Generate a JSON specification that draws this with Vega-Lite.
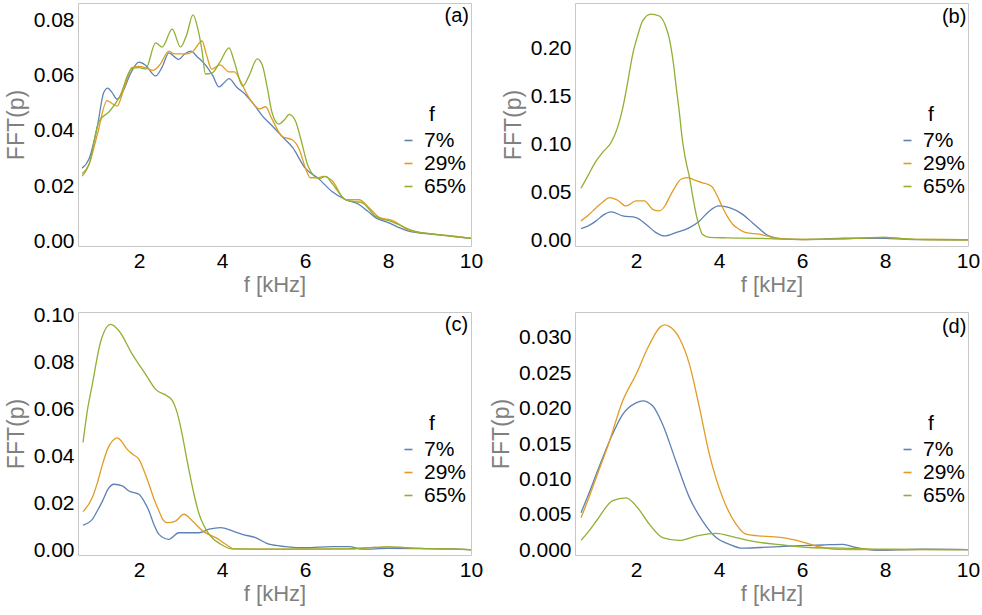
{
  "$schema": "https://vega.github.io/schema/vega-lite/v6.json",
  "padding": {"left": 4, "top": 2, "right": 5, "bottom": 5},
  "background": "white",
  "config": {
    "font": "Liberation Sans",
    "view": {"stroke": "#c8c8c8", "strokeWidth": 1},
    "axis": {"labelFont": "Liberation Sans", "labelFontSize": 21, "labelColor": "#000000", "titleFont": "Liberation Sans", "titleFontSize": 22, "titleColor": "#808080", "titleFontWeight": "normal", "ticks": false, "domain": false, "grid": false, "labelPadding": 4, "labelFlush": false, "labelOverlap": false},
    "axisX": {"titlePadding": 3},
    "axisY": {"titlePadding": 5, "titleFontSize": 23},
    "legend": {"orient": "none", "legendX": 320, "legendY": 101, "titleFontSize": 21, "titleFontWeight": "normal", "titleColor": "#000000", "titleFont": "Liberation Sans", "titleAnchor": "middle", "titlePadding": 5, "labelFontSize": 21, "labelColor": "#000000", "labelFont": "Liberation Sans", "symbolType": "stroke", "symbolSize": 64, "symbolStrokeWidth": 1.6, "rowPadding": 1, "labelOffset": 5}
  },
  "datasets": {
    "a": [
      {"s":"7%","f":0.63,"v":0.0265},{"s":"7%","f":0.8,"v":0.030},{"s":"7%","f":1.0,"v":0.042},{"s":"7%","f":1.15,"v":0.054},{"s":"7%","f":1.25,"v":0.0556},{"s":"7%","f":1.35,"v":0.054},{"s":"7%","f":1.47,"v":0.0516},{"s":"7%","f":1.6,"v":0.054},{"s":"7%","f":1.8,"v":0.061},{"s":"7%","f":2.0,"v":0.065},{"s":"7%","f":2.15,"v":0.064},{"s":"7%","f":2.4,"v":0.060},{"s":"7%","f":2.55,"v":0.063},{"s":"7%","f":2.72,"v":0.0684},{"s":"7%","f":2.85,"v":0.067},{"s":"7%","f":2.96,"v":0.066},{"s":"7%","f":3.1,"v":0.068},{"s":"7%","f":3.25,"v":0.069},{"s":"7%","f":3.4,"v":0.067},{"s":"7%","f":3.6,"v":0.064},{"s":"7%","f":3.78,"v":0.060},{"s":"7%","f":3.93,"v":0.056},{"s":"7%","f":4.05,"v":0.0575},{"s":"7%","f":4.17,"v":0.059},{"s":"7%","f":4.35,"v":0.056},{"s":"7%","f":4.58,"v":0.053},{"s":"7%","f":4.8,"v":0.049},{"s":"7%","f":4.97,"v":0.0455},{"s":"7%","f":5.2,"v":0.042},{"s":"7%","f":5.45,"v":0.038},{"s":"7%","f":5.7,"v":0.034},{"s":"7%","f":6.0,"v":0.0266},{"s":"7%","f":6.34,"v":0.0225},{"s":"7%","f":6.65,"v":0.018},{"s":"7%","f":6.98,"v":0.015},{"s":"7%","f":7.3,"v":0.0133},{"s":"7%","f":7.5,"v":0.011},{"s":"7%","f":7.7,"v":0.0085},{"s":"7%","f":8.02,"v":0.0066},{"s":"7%","f":8.25,"v":0.005},{"s":"7%","f":8.5,"v":0.0036},{"s":"7%","f":9.06,"v":0.0025},{"s":"7%","f":9.5,"v":0.0018},{"s":"7%","f":10,"v":0.001},
      {"s":"29%","f":0.63,"v":0.0245},{"s":"29%","f":0.8,"v":0.028},{"s":"29%","f":1.0,"v":0.039},{"s":"29%","f":1.23,"v":0.051},{"s":"29%","f":1.35,"v":0.050},{"s":"29%","f":1.47,"v":0.049},{"s":"29%","f":1.65,"v":0.056},{"s":"29%","f":1.83,"v":0.063},{"s":"29%","f":2.0,"v":0.0635},{"s":"29%","f":2.15,"v":0.063},{"s":"29%","f":2.33,"v":0.062},{"s":"29%","f":2.5,"v":0.064},{"s":"29%","f":2.72,"v":0.069},{"s":"29%","f":2.85,"v":0.068},{"s":"29%","f":3.0,"v":0.068},{"s":"29%","f":3.15,"v":0.068},{"s":"29%","f":3.3,"v":0.069},{"s":"29%","f":3.52,"v":0.0727},{"s":"29%","f":3.62,"v":0.068},{"s":"29%","f":3.75,"v":0.0625},{"s":"29%","f":3.95,"v":0.064},{"s":"29%","f":4.17,"v":0.0615},{"s":"29%","f":4.3,"v":0.0615},{"s":"29%","f":4.45,"v":0.058},{"s":"29%","f":4.58,"v":0.054},{"s":"29%","f":4.75,"v":0.050},{"s":"29%","f":4.9,"v":0.048},{"s":"29%","f":5.05,"v":0.0488},{"s":"29%","f":5.2,"v":0.0445},{"s":"29%","f":5.45,"v":0.038},{"s":"29%","f":5.7,"v":0.0367},{"s":"29%","f":5.87,"v":0.033},{"s":"29%","f":6.0,"v":0.027},{"s":"29%","f":6.13,"v":0.023},{"s":"29%","f":6.3,"v":0.023},{"s":"29%","f":6.44,"v":0.0235},{"s":"29%","f":6.65,"v":0.022},{"s":"29%","f":6.98,"v":0.015},{"s":"29%","f":7.15,"v":0.015},{"s":"29%","f":7.3,"v":0.015},{"s":"29%","f":7.55,"v":0.012},{"s":"29%","f":7.8,"v":0.0085},{"s":"29%","f":8.1,"v":0.0075},{"s":"29%","f":8.5,"v":0.004},{"s":"29%","f":9.06,"v":0.0026},{"s":"29%","f":9.5,"v":0.002},{"s":"29%","f":10,"v":0.001},
      {"s":"65%","f":0.63,"v":0.0236},{"s":"65%","f":0.8,"v":0.028},{"s":"65%","f":1.04,"v":0.0436},{"s":"65%","f":1.28,"v":0.047},{"s":"65%","f":1.52,"v":0.052},{"s":"65%","f":1.83,"v":0.0627},{"s":"65%","f":2.0,"v":0.063},{"s":"65%","f":2.16,"v":0.0625},{"s":"65%","f":2.4,"v":0.072},{"s":"65%","f":2.56,"v":0.0705},{"s":"65%","f":2.8,"v":0.077},{"s":"65%","f":3.0,"v":0.0705},{"s":"65%","f":3.15,"v":0.075},{"s":"65%","f":3.3,"v":0.0822},{"s":"65%","f":3.42,"v":0.077},{"s":"65%","f":3.52,"v":0.069},{"s":"65%","f":3.6,"v":0.0607},{"s":"65%","f":3.75,"v":0.061},{"s":"65%","f":3.95,"v":0.065},{"s":"65%","f":4.17,"v":0.0702},{"s":"65%","f":4.3,"v":0.065},{"s":"65%","f":4.5,"v":0.0563},{"s":"65%","f":4.65,"v":0.060},{"s":"65%","f":4.85,"v":0.0662},{"s":"65%","f":4.97,"v":0.064},{"s":"65%","f":5.1,"v":0.055},{"s":"65%","f":5.2,"v":0.047},{"s":"65%","f":5.37,"v":0.0425},{"s":"65%","f":5.5,"v":0.044},{"s":"65%","f":5.62,"v":0.046},{"s":"65%","f":5.77,"v":0.0436},{"s":"65%","f":5.9,"v":0.037},{"s":"65%","f":6.08,"v":0.027},{"s":"65%","f":6.34,"v":0.0227},{"s":"65%","f":6.5,"v":0.0235},{"s":"65%","f":6.65,"v":0.021},{"s":"65%","f":6.98,"v":0.015},{"s":"65%","f":7.2,"v":0.0143},{"s":"65%","f":7.37,"v":0.014},{"s":"65%","f":7.7,"v":0.009},{"s":"65%","f":8.1,"v":0.007},{"s":"65%","f":8.66,"v":0.0035},{"s":"65%","f":9.2,"v":0.0023},{"s":"65%","f":9.6,"v":0.0016},{"s":"65%","f":10,"v":0.001}
    ],
    "b": [
      {"s":"7%","f":0.675,"v":0.0122},{"s":"7%","f":0.85,"v":0.015},{"s":"7%","f":1.04,"v":0.0202},{"s":"7%","f":1.2,"v":0.026},{"s":"7%","f":1.4,"v":0.0296},{"s":"7%","f":1.68,"v":0.0254},{"s":"7%","f":2.0,"v":0.0237},{"s":"7%","f":2.24,"v":0.0167},{"s":"7%","f":2.48,"v":0.008},{"s":"7%","f":2.68,"v":0.0045},{"s":"7%","f":2.96,"v":0.008},{"s":"7%","f":3.29,"v":0.0132},{"s":"7%","f":3.53,"v":0.0202},{"s":"7%","f":3.77,"v":0.0306},{"s":"7%","f":4.0,"v":0.0358},{"s":"7%","f":4.25,"v":0.034},{"s":"7%","f":4.57,"v":0.027},{"s":"7%","f":4.81,"v":0.018},{"s":"7%","f":5.0,"v":0.011},{"s":"7%","f":5.13,"v":0.0063},{"s":"7%","f":5.45,"v":0.002},{"s":"7%","f":6,"v":0.0007},{"s":"7%","f":6.5,"v":0.0012},{"s":"7%","f":7,"v":0.0022},{"s":"7%","f":7.5,"v":0.002},{"s":"7%","f":8,"v":0.002},{"s":"7%","f":8.5,"v":0.001},{"s":"7%","f":9,"v":0.0006},{"s":"7%","f":10,"v":0.0004},
      {"s":"29%","f":0.675,"v":0.0202},{"s":"29%","f":0.85,"v":0.026},{"s":"29%","f":1.04,"v":0.034},{"s":"29%","f":1.2,"v":0.040},{"s":"29%","f":1.36,"v":0.0445},{"s":"29%","f":1.56,"v":0.0417},{"s":"29%","f":1.76,"v":0.0358},{"s":"29%","f":2.0,"v":0.041},{"s":"29%","f":2.2,"v":0.041},{"s":"29%","f":2.4,"v":0.0323},{"s":"29%","f":2.56,"v":0.0306},{"s":"29%","f":2.7,"v":0.036},{"s":"29%","f":2.8,"v":0.0445},{"s":"29%","f":2.95,"v":0.056},{"s":"29%","f":3.08,"v":0.0637},{"s":"29%","f":3.24,"v":0.0654},{"s":"29%","f":3.4,"v":0.063},{"s":"29%","f":3.6,"v":0.060},{"s":"29%","f":3.75,"v":0.058},{"s":"29%","f":3.85,"v":0.055},{"s":"29%","f":3.95,"v":0.047},{"s":"29%","f":4.09,"v":0.034},{"s":"29%","f":4.2,"v":0.025},{"s":"29%","f":4.33,"v":0.0167},{"s":"29%","f":4.5,"v":0.011},{"s":"29%","f":4.65,"v":0.008},{"s":"29%","f":4.97,"v":0.0063},{"s":"29%","f":5.15,"v":0.0045},{"s":"29%","f":5.37,"v":0.002},{"s":"29%","f":6,"v":0.0008},{"s":"29%","f":7,"v":0.0015},{"s":"29%","f":7.5,"v":0.0025},{"s":"29%","f":8,"v":0.003},{"s":"29%","f":8.5,"v":0.0015},{"s":"29%","f":9,"v":0.0008},{"s":"29%","f":10,"v":0.0005},
      {"s":"65%","f":0.675,"v":0.0543},{"s":"65%","f":0.85,"v":0.068},{"s":"65%","f":1.04,"v":0.0828},{"s":"65%","f":1.2,"v":0.092},{"s":"65%","f":1.4,"v":0.102},{"s":"65%","f":1.55,"v":0.117},{"s":"65%","f":1.68,"v":0.138},{"s":"65%","f":1.8,"v":0.165},{"s":"65%","f":1.92,"v":0.194},{"s":"65%","f":2.05,"v":0.215},{"s":"65%","f":2.16,"v":0.229},{"s":"65%","f":2.36,"v":0.236},{"s":"65%","f":2.56,"v":0.234},{"s":"65%","f":2.7,"v":0.225},{"s":"65%","f":2.8,"v":0.211},{"s":"65%","f":2.9,"v":0.185},{"s":"65%","f":2.96,"v":0.163},{"s":"65%","f":3.04,"v":0.135},{"s":"65%","f":3.12,"v":0.104},{"s":"65%","f":3.2,"v":0.083},{"s":"65%","f":3.29,"v":0.0654},{"s":"65%","f":3.37,"v":0.045},{"s":"65%","f":3.45,"v":0.027},{"s":"65%","f":3.52,"v":0.015},{"s":"65%","f":3.6,"v":0.0063},{"s":"65%","f":3.77,"v":0.003},{"s":"65%","f":4.2,"v":0.0025},{"s":"65%","f":5,"v":0.002},{"s":"65%","f":5.5,"v":0.0012},{"s":"65%","f":6,"v":0.001},{"s":"65%","f":7,"v":0.0015},{"s":"65%","f":7.5,"v":0.0025},{"s":"65%","f":8,"v":0.003},{"s":"65%","f":8.5,"v":0.0015},{"s":"65%","f":9,"v":0.0008},{"s":"65%","f":10,"v":0.0005}
    ],
    "c": [
      {"s":"7%","f":0.65,"v":0.0108},{"s":"7%","f":0.875,"v":0.0132},{"s":"7%","f":1.0,"v":0.017},{"s":"7%","f":1.12,"v":0.021},{"s":"7%","f":1.25,"v":0.026},{"s":"7%","f":1.4,"v":0.0282},{"s":"7%","f":1.6,"v":0.0275},{"s":"7%","f":1.76,"v":0.0253},{"s":"7%","f":2.0,"v":0.0239},{"s":"7%","f":2.12,"v":0.021},{"s":"7%","f":2.24,"v":0.0168},{"s":"7%","f":2.36,"v":0.011},{"s":"7%","f":2.48,"v":0.0068},{"s":"7%","f":2.72,"v":0.0047},{"s":"7%","f":2.96,"v":0.0075},{"s":"7%","f":3.2,"v":0.0075},{"s":"7%","f":3.45,"v":0.0075},{"s":"7%","f":3.69,"v":0.009},{"s":"7%","f":3.97,"v":0.0097},{"s":"7%","f":4.25,"v":0.0083},{"s":"7%","f":4.49,"v":0.0068},{"s":"7%","f":4.81,"v":0.0054},{"s":"7%","f":5.13,"v":0.0026},{"s":"7%","f":5.53,"v":0.0016},{"s":"7%","f":6.0,"v":0.0011},{"s":"7%","f":6.66,"v":0.0016},{"s":"7%","f":7.06,"v":0.0016},{"s":"7%","f":7.38,"v":0.0005},{"s":"7%","f":8,"v":0.0008},{"s":"7%","f":8.67,"v":0.0007},{"s":"7%","f":9.5,"v":0.0006},{"s":"7%","f":10,"v":0.0002},
      {"s":"29%","f":0.65,"v":0.0165},{"s":"29%","f":0.875,"v":0.0225},{"s":"29%","f":1.0,"v":0.029},{"s":"29%","f":1.12,"v":0.0367},{"s":"29%","f":1.25,"v":0.0435},{"s":"29%","f":1.36,"v":0.0467},{"s":"29%","f":1.48,"v":0.048},{"s":"29%","f":1.58,"v":0.0465},{"s":"29%","f":1.68,"v":0.0438},{"s":"29%","f":1.85,"v":0.041},{"s":"29%","f":2.0,"v":0.0388},{"s":"29%","f":2.12,"v":0.034},{"s":"29%","f":2.24,"v":0.0282},{"s":"29%","f":2.36,"v":0.022},{"s":"29%","f":2.48,"v":0.0168},{"s":"29%","f":2.58,"v":0.013},{"s":"29%","f":2.68,"v":0.0118},{"s":"29%","f":2.88,"v":0.0125},{"s":"29%","f":3.08,"v":0.0154},{"s":"29%","f":3.29,"v":0.0125},{"s":"29%","f":3.53,"v":0.0083},{"s":"29%","f":3.85,"v":0.0054},{"s":"29%","f":4.09,"v":0.0026},{"s":"29%","f":4.29,"v":0.0006},{"s":"29%","f":5,"v":0.0005},{"s":"29%","f":6,"v":0.0005},{"s":"29%","f":7,"v":0.0006},{"s":"29%","f":7.5,"v":0.001},{"s":"29%","f":8,"v":0.0015},{"s":"29%","f":8.5,"v":0.001},{"s":"29%","f":9,"v":0.0007},{"s":"29%","f":10,"v":0.0003},
      {"s":"65%","f":0.65,"v":0.046},{"s":"65%","f":0.75,"v":0.059},{"s":"65%","f":0.875,"v":0.0708},{"s":"65%","f":1.08,"v":0.0893},{"s":"65%","f":1.32,"v":0.0964},{"s":"65%","f":1.52,"v":0.0936},{"s":"65%","f":1.84,"v":0.0836},{"s":"65%","f":2.16,"v":0.0751},{"s":"65%","f":2.4,"v":0.0687},{"s":"65%","f":2.68,"v":0.0659},{"s":"65%","f":2.8,"v":0.064},{"s":"65%","f":2.88,"v":0.0609},{"s":"65%","f":2.96,"v":0.056},{"s":"65%","f":3.04,"v":0.0495},{"s":"65%","f":3.14,"v":0.040},{"s":"65%","f":3.24,"v":0.031},{"s":"65%","f":3.35,"v":0.022},{"s":"65%","f":3.45,"v":0.0154},{"s":"65%","f":3.55,"v":0.011},{"s":"65%","f":3.69,"v":0.0068},{"s":"65%","f":3.97,"v":0.0026},{"s":"65%","f":4.25,"v":0.0006},{"s":"65%","f":5,"v":0.0005},{"s":"65%","f":6,"v":0.0005},{"s":"65%","f":7,"v":0.0006},{"s":"65%","f":7.5,"v":0.001},{"s":"65%","f":8,"v":0.0015},{"s":"65%","f":8.5,"v":0.001},{"s":"65%","f":9,"v":0.0007},{"s":"65%","f":10,"v":0.0003}
    ],
    "d": [
      {"s":"7%","f":0.675,"v":0.0053},{"s":"7%","f":0.85,"v":0.0078},{"s":"7%","f":1.04,"v":0.0107},{"s":"7%","f":1.36,"v":0.0154},{"s":"7%","f":1.68,"v":0.0192},{"s":"7%","f":2.0,"v":0.0208},{"s":"7%","f":2.16,"v":0.0211},{"s":"7%","f":2.4,"v":0.0204},{"s":"7%","f":2.64,"v":0.0178},{"s":"7%","f":2.96,"v":0.0126},{"s":"7%","f":3.29,"v":0.0074},{"s":"7%","f":3.61,"v":0.0041},{"s":"7%","f":3.93,"v":0.0018},{"s":"7%","f":4.25,"v":0.00085},{"s":"7%","f":4.57,"v":0.0003},{"s":"7%","f":5.0,"v":0.0004},{"s":"7%","f":5.7,"v":0.0006},{"s":"7%","f":6.5,"v":0.00075},{"s":"7%","f":6.98,"v":0.00085},{"s":"7%","f":7.3,"v":0.0004},{"s":"7%","f":7.78,"v":0.0},{"s":"7%","f":8.9,"v":0.00015},{"s":"7%","f":10,"v":0.0001},
      {"s":"29%","f":0.675,"v":0.0046},{"s":"29%","f":0.85,"v":0.0072},{"s":"29%","f":1.04,"v":0.01025},{"s":"29%","f":1.36,"v":0.0154},{"s":"29%","f":1.68,"v":0.0211},{"s":"29%","f":2.0,"v":0.0248},{"s":"29%","f":2.32,"v":0.029},{"s":"29%","f":2.6,"v":0.0316},{"s":"29%","f":2.7,"v":0.0318},{"s":"29%","f":2.8,"v":0.0316},{"s":"29%","f":3.04,"v":0.030},{"s":"29%","f":3.29,"v":0.0262},{"s":"29%","f":3.53,"v":0.0201},{"s":"29%","f":3.77,"v":0.0135},{"s":"29%","f":4.09,"v":0.0074},{"s":"29%","f":4.41,"v":0.0037},{"s":"29%","f":4.65,"v":0.0023},{"s":"29%","f":5.05,"v":0.002},{"s":"29%","f":5.53,"v":0.0018},{"s":"29%","f":5.94,"v":0.0013},{"s":"29%","f":6.34,"v":0.0006},{"s":"29%","f":6.82,"v":0.00015},{"s":"29%","f":7.5,"v":0.0001},{"s":"29%","f":8.5,"v":0.0001},{"s":"29%","f":10,"v":0.0001},
      {"s":"65%","f":0.675,"v":0.0014},{"s":"65%","f":0.85,"v":0.0026},{"s":"65%","f":1.04,"v":0.0041},{"s":"65%","f":1.44,"v":0.007},{"s":"65%","f":1.76,"v":0.0074},{"s":"65%","f":2.04,"v":0.006},{"s":"65%","f":2.32,"v":0.0037},{"s":"65%","f":2.64,"v":0.0018},{"s":"65%","f":3.04,"v":0.0014},{"s":"65%","f":3.45,"v":0.002},{"s":"65%","f":3.93,"v":0.0024},{"s":"65%","f":4.41,"v":0.0018},{"s":"65%","f":4.89,"v":0.0012},{"s":"65%","f":5.53,"v":0.00075},{"s":"65%","f":6.18,"v":0.0004},{"s":"65%","f":6.98,"v":0.0003},{"s":"65%","f":8,"v":0.00015},{"s":"65%","f":10,"v":0.0001}
    ],
    "labels": [
      {"p":"a","t":"(a)","f":9.95,"v":0.0818},
      {"p":"b","t":"(b)","f":9.96,"v":0.233},
      {"p":"c","t":"(c)","f":9.93,"v":0.0962},
      {"p":"d","t":"(d)","f":9.96,"v":0.0315}
    ]
  },
  "columns": 2,
  "bounds": "flush",
  "spacing": {"row": 66, "column": 104},
  "resolve": {"scale": {"color": "independent", "x": "independent", "y": "independent"}, "legend": {"color": "independent"}},
  "concat": [
    {
      "width": 393, "height": 243,
      "layer": [
        {"data": {"name": "a"}, "mark": {"type": "line", "interpolate": "monotone", "strokeWidth": 1.3},
         "encoding": {
           "x": {"field": "f", "type": "quantitative", "scale": {"domain": [0.53, 10], "nice": false, "zero": false}, "axis": {"values": [2, 4, 6, 8, 10], "title": "f [kHz]"}},
           "y": {"field": "v", "type": "quantitative", "scale": {"domain": [-0.0018, 0.0865], "nice": false, "zero": false}, "axis": {"values": [0, 0.02, 0.04, 0.06, 0.08], "format": ".2f", "title": "FFT(p)"}},
           "color": {"field": "s", "type": "nominal", "scale": {"domain": ["7%", "29%", "65%"], "range": ["#5E81B5", "#E19C24", "#8FB032"]}, "legend": {"title": "f"}}
         }},
        {"data": {"name": "labels"}, "transform": [{"filter": "datum.p == 'a'"}], "mark": {"type": "text", "align": "right", "baseline": "middle", "fontSize": 20, "color": "#000000"},
         "encoding": {"x": {"field": "f", "type": "quantitative"}, "y": {"field": "v", "type": "quantitative"}, "text": {"field": "t"}}}
      ]
    },
    {
      "width": 393, "height": 243,
      "layer": [
        {"data": {"name": "b"}, "mark": {"type": "line", "interpolate": "monotone", "strokeWidth": 1.3},
         "encoding": {
           "x": {"field": "f", "type": "quantitative", "scale": {"domain": [0.53, 10], "nice": false, "zero": false}, "axis": {"values": [2, 4, 6, 8, 10], "title": "f [kHz]"}},
           "y": {"field": "v", "type": "quantitative", "scale": {"domain": [-0.006, 0.2476], "nice": false, "zero": false}, "axis": {"values": [0, 0.05, 0.1, 0.15, 0.2], "format": ".2f", "title": "FFT(p)"}},
           "color": {"field": "s", "type": "nominal", "scale": {"domain": ["7%", "29%", "65%"], "range": ["#5E81B5", "#E19C24", "#8FB032"]}, "legend": {"title": "f", "legendX": 322}}
         }},
        {"data": {"name": "labels"}, "transform": [{"filter": "datum.p == 'b'"}], "mark": {"type": "text", "align": "right", "baseline": "middle", "fontSize": 20, "color": "#000000"},
         "encoding": {"x": {"field": "f", "type": "quantitative"}, "y": {"field": "v", "type": "quantitative"}, "text": {"field": "t"}}}
      ]
    },
    {
      "width": 393, "height": 243,
      "layer": [
        {"data": {"name": "c"}, "mark": {"type": "line", "interpolate": "monotone", "strokeWidth": 1.3},
         "encoding": {
           "x": {"field": "f", "type": "quantitative", "scale": {"domain": [0.53, 10], "nice": false, "zero": false}, "axis": {"values": [2, 4, 6, 8, 10], "title": "f [kHz]"}},
           "y": {"field": "v", "type": "quantitative", "scale": {"domain": [-0.002, 0.1017], "nice": false, "zero": false}, "axis": {"values": [0, 0.02, 0.04, 0.06, 0.08, 0.1], "format": ".2f", "title": "FFT(p)"}},
           "color": {"field": "s", "type": "nominal", "scale": {"domain": ["7%", "29%", "65%"], "range": ["#5E81B5", "#E19C24", "#8FB032"]}, "legend": {"title": "f"}}
         }},
        {"data": {"name": "labels"}, "transform": [{"filter": "datum.p == 'c'"}], "mark": {"type": "text", "align": "right", "baseline": "middle", "fontSize": 20, "color": "#000000"},
         "encoding": {"x": {"field": "f", "type": "quantitative"}, "y": {"field": "v", "type": "quantitative"}, "text": {"field": "t"}}}
      ]
    },
    {
      "width": 393, "height": 243,
      "layer": [
        {"data": {"name": "d"}, "mark": {"type": "line", "interpolate": "monotone", "strokeWidth": 1.3},
         "encoding": {
           "x": {"field": "f", "type": "quantitative", "scale": {"domain": [0.53, 10], "nice": false, "zero": false}, "axis": {"values": [2, 4, 6, 8, 10], "title": "f [kHz]"}},
           "y": {"field": "v", "type": "quantitative", "scale": {"domain": [-0.00066, 0.03363], "nice": false, "zero": false}, "axis": {"values": [0, 0.005, 0.01, 0.015, 0.02, 0.025, 0.03], "format": ".3f", "title": "FFT(p)"}},
           "color": {"field": "s", "type": "nominal", "scale": {"domain": ["7%", "29%", "65%"], "range": ["#5E81B5", "#E19C24", "#8FB032"]}, "legend": {"title": "f", "legendX": 322}}
         }},
        {"data": {"name": "labels"}, "transform": [{"filter": "datum.p == 'd'"}], "mark": {"type": "text", "align": "right", "baseline": "middle", "fontSize": 20, "color": "#000000"},
         "encoding": {"x": {"field": "f", "type": "quantitative"}, "y": {"field": "v", "type": "quantitative"}, "text": {"field": "t"}}}
      ]
    }
  ]
}
